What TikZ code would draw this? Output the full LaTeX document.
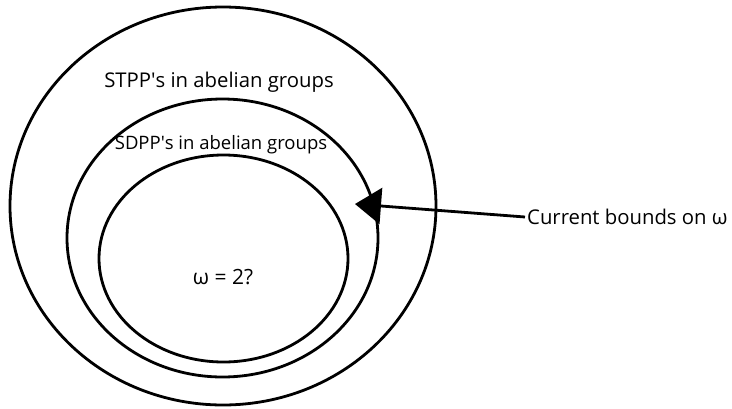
\documentclass[tikz,border=0pt]{standalone}
\usepackage{fontspec}
\setmainfont{Open Sans}
\usetikzlibrary{arrows.meta}
\begin{document}
\begin{tikzpicture}[x=1pt,y=-1pt,
  ring/.style={draw=black,line width=2.8pt},
  lbl/.style={inner sep=0pt,font=\fontsize{20.3}{22}\selectfont},
  arr/.style={line width=2.8pt,-{Triangle[length=26pt,width=36pt]}}]
\useasboundingbox (0,0) rectangle (732,408);
\draw[ring] (223,206) ellipse [x radius=213,y radius=199];
\draw[ring] (222.5,238) ellipse [x radius=155.5,y radius=139];
\draw[ring] (223.5,258.5) ellipse [x radius=124.5,y radius=103.5];
\node[lbl] (stpp) at (219,82) {STPP\textquotesingle s in abelian groups};
\node[lbl,font=\fontsize{18.5}{20}\selectfont] (sdpp) at (221,145) {SDPP\textquotesingle s in abelian groups};
\node[lbl,font=\fontsize{21}{23}\selectfont] (omega) at (223,277) {ω = 2?};
\node[lbl,anchor=west] (cb) at (527,217) {Current bounds on ω};
\coordinate (tip) at (355,204);
\draw[arr] ([xshift=-2pt]cb.west) -- (tip);
\end{tikzpicture}
\end{document}
